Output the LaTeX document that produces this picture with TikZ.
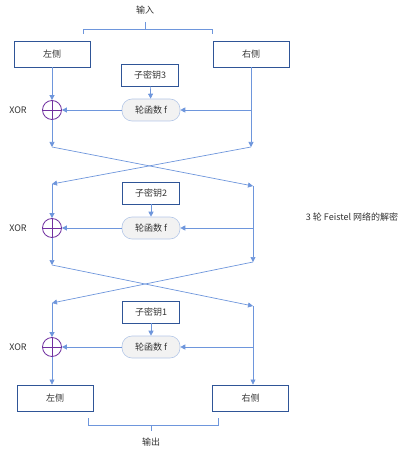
\documentclass[tikz,border=0pt]{standalone}
\usepackage{fontspec}
\newfontfamily\cjk{Noto Sans CJK SC}
\usetikzlibrary{arrows.meta}
\definecolor{ln}{RGB}{110,150,220}
\definecolor{bx}{RGB}{47,85,151}
\definecolor{fb}{RGB}{180,199,231}
\definecolor{ff}{RGB}{242,242,242}
\definecolor{xr}{RGB}{112,48,160}
\definecolor{tx}{RGB}{50,50,50}
\begin{document}
\begin{tikzpicture}[x=1pt,y=-1pt, font=\cjk\fontsize{9}{11}\selectfont, text=tx,
 blk/.style={draw=bx, line width=0.9pt, minimum width=76pt, minimum height=26pt, inner sep=0},
 key/.style={draw=bx, line width=0.9pt, minimum width=57pt, minimum height=22pt, inner sep=0},
 fn/.style={draw=fb, fill=ff, rounded corners=10pt, minimum width=58pt, minimum height=22pt, inner sep=0, line width=0.6pt},
 xo/.style={circle, draw=xr, line width=0.8pt, minimum size=19pt, inner sep=0},
 wire/.style={draw=ln, line width=0.7pt},
 arr/.style={wire, -{Triangle[length=5pt,width=5pt]}},
]
\useasboundingbox (0,0) rectangle (415,454);
% input
\node (in) at (145,10) {输入};
\draw[wire] (83,34) -- (83,29) -- (212,29) -- (212,34);
\draw[wire] (145,29) -- (145,22);
% stage 3
\node[blk] (L0) at (52,54) {左侧};
\node[blk] (R0) at (251,54) {右侧};
\node[key] (K3) at (150,75) {子密钥3};
\node[fn] (F3) at (151,110) {轮函数 f};
\node[xo] (X3) at (52,110) {};
\draw[xr, line width=0.8pt] (X3.north) -- (X3.south) (X3.west) -- (X3.east);
\node (xl3) at (18,110) {XOR};
\coordinate (b3) at (251,110);
\coordinate (c3l) at (52,147);
\coordinate (c3r) at (251,147);
\draw[arr] (K3) -- (F3);
\draw[arr] (L0) -- (X3);
\draw[arr] (R0.south) -- (c3r);
\draw[arr] (b3) -- (F3.east);
\draw[arr] (F3.west) -- (X3.east);
\draw[arr] (X3.south) -- (c3l);
% cross 1
\coordinate (c2l) at (52,184);
\coordinate (c2r) at (253,186);
\draw[arr] (c3l) -- (c2r);
\draw[arr] (c3r) -- (c2l);
% stage 2
\node[key] (K2) at (151,193) {子密钥2};
\node[fn] (F2) at (151,228) {轮函数 f};
\node[xo] (X2) at (52,228) {};
\draw[xr, line width=0.8pt] (X2.north) -- (X2.south) (X2.west) -- (X2.east);
\node (xl2) at (18,228) {XOR};
\coordinate (b2) at (253,228);
\coordinate (c1l) at (52,265);
\coordinate (c1r) at (253,262);
\draw[arr] (K2) -- (F2);
\draw[arr] (c2l) -- (X2);
\draw[arr] (c2r) -- (c1r);
\draw[arr] (b2) -- (F2.east);
\draw[arr] (F2.west) -- (X2.east);
\draw[arr] (X2.south) -- (c1l);
% cross 2
\coordinate (c0l) at (52,303);
\coordinate (c0r) at (253,306);
\draw[arr] (c1l) -- (c0r);
\draw[arr] (c1r) -- (c0l);
% stage 1
\node[key] (K1) at (151,312) {子密钥1};
\node[fn] (F1) at (151,347) {轮函数 f};
\node[xo] (X1) at (52,347) {};
\draw[xr, line width=0.8pt] (X1.north) -- (X1.south) (X1.west) -- (X1.east);
\node (xl1) at (18,347) {XOR};
\coordinate (b1) at (253,347);
\node[blk] (L1) at (55,398) {左侧};
\node[blk] (R1) at (250.5,398) {右侧};
\draw[arr] (K1) -- (F1);
\draw[arr] (c0l) -- (X1);
\draw[arr] (c0r) -- (c0r |- R1.north);
\draw[arr] (b1) -- (F1.east);
\draw[arr] (F1.west) -- (X1.east);
\draw[arr] (X1.south) -- (X1.south |- L1.north);
% output
\draw[wire] (88,418) -- (88,425) -- (218,425) -- (218,418);
\draw[wire] (151,425) -- (151,431);
\node (out) at (151,442) {输出};
% side label
\node (lbl) at (352,217) {3 轮 Feistel 网络的解密};
\end{tikzpicture}
\end{document}
